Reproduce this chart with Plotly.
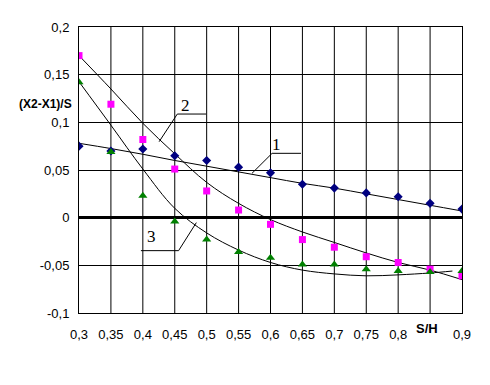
import plotly.graph_objects as go

# ---- data ----
s_h = [0.3, 0.35, 0.4, 0.45, 0.5, 0.55, 0.6, 0.65, 0.7, 0.75, 0.8, 0.85, 0.9]
series1 = [0.075, 0.070, 0.072, 0.065, 0.060, 0.053, 0.047, 0.035, 0.031, 0.026, 0.022, 0.015, 0.009]
series2 = [0.170, 0.119, 0.082, 0.051, 0.028, 0.008, -0.007, -0.023, -0.031, -0.041, -0.047, -0.054, -0.061]
series3 = [0.142, 0.069, 0.023, -0.004, -0.023, -0.036, -0.042, -0.049, -0.049, -0.054, -0.056, -0.057, -0.056]

# trend curves
trend_x = [0.3, 0.35, 0.4, 0.45, 0.5, 0.55, 0.6, 0.65, 0.7, 0.75, 0.8, 0.85, 0.9]
trend1 = [0.078, 0.0725, 0.0665, 0.060, 0.054, 0.048, 0.042, 0.036, 0.031, 0.025, 0.019, 0.013, 0.007]
trend2 = [0.170, 0.135, 0.099, 0.067, 0.037, 0.015, -0.002, -0.015, -0.026, -0.037, -0.047, -0.055, -0.065]
trend3_x = [0.3, 0.35, 0.4, 0.45, 0.5, 0.55, 0.6, 0.65, 0.7, 0.75, 0.8, 0.85, 0.885]
trend3 = [0.1426, 0.097, 0.051, 0.0098, -0.016, -0.034, -0.047, -0.055, -0.059, -0.061, -0.060, -0.058, -0.056]

x_tickvals = [0.3, 0.35, 0.4, 0.45, 0.5, 0.55, 0.6, 0.65, 0.7, 0.75, 0.8, 0.9]
x_ticktext = ["0,3", "0,35", "0,4", "0,45", "0,5", "0,55", "0,6", "0,65", "0,7", "0,75", "0,8", "0,9"]
x_gridvals = [0.35, 0.4, 0.45, 0.5, 0.55, 0.6, 0.65, 0.7, 0.75, 0.8, 0.85]
y_tickvals = [-0.1, -0.05, 0, 0.05, 0.1, 0.15, 0.2]
y_ticktext = ["-0,1", "-0,05", "0", "0,05", "0,1", "0,15", "0,2"]

curve_labels = ["1", "2", "3"]
label_pos = [(0.610, 0.0772), (0.467, 0.118), (0.414, -0.0199)]
leader_paths = [
    [(0.6478, 0.0675), (0.6025, 0.0675), (0.571, 0.0465)],
    [(0.499, 0.1087), (0.454, 0.1087), (0.4255, 0.0797)],
    [(0.397, -0.0346), (0.456, -0.0346), (0.4838, -0.0052)],
]

fig = go.Figure()

# trend lines
for tx, ty in [(trend_x, trend1), (trend_x, trend2), (trend3_x, trend3)]:
    fig.add_trace(go.Scatter(x=tx, y=ty, mode="lines",
                             line=dict(color="black", width=1, shape="spline", smoothing=1.0),
                             hoverinfo="skip", showlegend=False))

fig.add_trace(go.Scatter(x=s_h, y=series1, mode="markers",
                         marker=dict(symbol="diamond", size=7, color="#000080"), showlegend=False))
fig.add_trace(go.Scatter(x=s_h, y=series2, mode="markers",
                         marker=dict(symbol="square", size=7, color="#FF00FF"), showlegend=False))
fig.add_trace(go.Scatter(x=s_h, y=series3, mode="markers",
                         marker=dict(symbol="triangle-up", size=8, color="#008000"), showlegend=False))

# leader lines
for path in leader_paths:
    fig.add_trace(go.Scatter(x=[p[0] for p in path], y=[p[1] for p in path], mode="lines",
                             line=dict(color="black", width=1), hoverinfo="skip", showlegend=False))

shapes = []
for gx in x_gridvals:
    shapes.append(dict(type="line", xref="x", yref="paper", x0=gx, x1=gx, y0=0, y1=1,
                       line=dict(color="black", width=1), layer="below"))

# page body has an 8px margin, so the figure is shifted by 8px
OFF = 8
W, H = 490 - OFF, 385 - OFF
ml, mr, mt, mb = 79 - OFF, 28, 27 - OFF, 72
pw, ph = W - ml - mr, H - mt - mb

def px_to_paper(px, py):
    return ((px - OFF - ml) / pw, (H - mb - (py - OFF)) / ph)

annotations = []
for lab, (lx, ly) in zip(curve_labels, label_pos):
    annotations.append(dict(x=lx, y=ly, xref="x", yref="y", text=lab, showarrow=False,
                            xanchor="center", yanchor="middle",
                            font=dict(family="Liberation Serif", size=17, color="black")))
tx_, ty_ = px_to_paper(45, 104)
annotations.append(dict(x=tx_, y=ty_, xref="paper", yref="paper", text="<b>(X2-X1)/S</b>",
                        showarrow=False, xanchor="center", yanchor="middle",
                        font=dict(family="Liberation Sans", size=12, color="black")))
sx_, sy_ = px_to_paper(427, 328)
annotations.append(dict(x=sx_, y=sy_, xref="paper", yref="paper", text="<b>S/H</b>",
                        showarrow=False, xanchor="center", yanchor="middle",
                        font=dict(family="Liberation Sans", size=13, color="black")))

fig.update_layout(
    width=W, height=H,
    margin=dict(l=ml, r=mr, t=mt, b=mb, autoexpand=False),
    paper_bgcolor="white", plot_bgcolor="white",
    font=dict(family="Liberation Sans", size=13, color="black"),
    shapes=shapes, annotations=annotations,
    xaxis=dict(range=[0.3, 0.9], tickvals=x_tickvals, ticktext=x_ticktext,
               showgrid=False, zeroline=False, showline=True, linecolor="black", linewidth=1,
               mirror=True, ticks="", ticklabelstandoff=9),
    yaxis=dict(range=[-0.1, 0.2], tickvals=y_tickvals, ticktext=y_ticktext,
               showgrid=True, gridcolor="black", gridwidth=1,
               zeroline=True, zerolinecolor="black", zerolinewidth=3,
               showline=True, linecolor="black", linewidth=1, mirror=True,
               ticks="", ticklabelstandoff=6),
)

fig.write_html("out.html")
